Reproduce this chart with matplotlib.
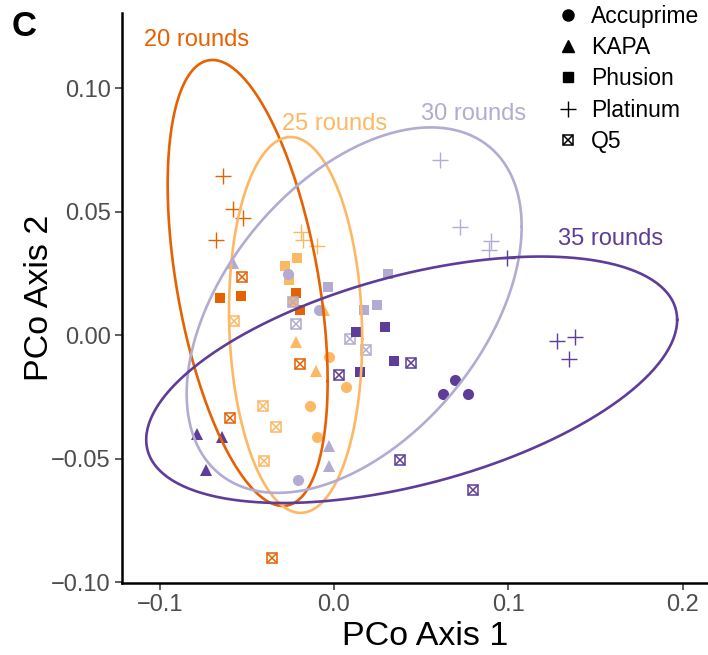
import numpy as np
import matplotlib
matplotlib.use('Agg')
import matplotlib.pyplot as plt
from matplotlib.lines import Line2D

plt.rcParams['font.family'] = ['Liberation Sans', 'DejaVu Sans']

# PCoA coordinates per cycle number and polymerase
rounds = ['20 rounds', '25 rounds', '30 rounds', '35 rounds']
round_colors = ['#E66101', '#FDB863', '#B2ABD2', '#5E3C99']
polymerases = ['Accuprime', 'KAPA', 'Phusion', 'Platinum', 'Q5']

r20_x = {'Platinum': [-0.0639, -0.0581, -0.0524, -0.0679],
         'Phusion': [-0.0656, -0.0535, -0.0220, -0.0197],
         'Q5': [-0.0530, -0.0197, -0.0598, -0.0357]}
r20_y = {'Platinum': [0.0643, 0.0509, 0.0473, 0.0383],
         'Phusion': [0.0152, 0.0160, 0.0172, 0.0103],
         'Q5': [0.0237, -0.0116, -0.0335, -0.0903]}

r25_x = {'Accuprime': [-0.0030, 0.0067, -0.0139, -0.0099],
         'KAPA': [-0.0059, -0.0220, -0.0105],
         'Phusion': [-0.0214, -0.0283, -0.0260, -0.0233],
         'Platinum': [-0.0191, -0.0180, -0.0099],
         'Q5': [-0.0575, -0.0409, -0.0334, -0.0403]}
r25_y = {'Accuprime': [-0.0087, -0.0209, -0.0286, -0.0412],
         'KAPA': [0.0103, -0.0030, -0.0144],
         'Phusion': [0.0314, 0.0278, 0.0225, 0.0134],
         'Platinum': [0.0416, 0.0383, 0.0359],
         'Q5': [0.0055, -0.0286, -0.0371, -0.0509]}

r30_x = {'Accuprime': [-0.0266, -0.0088, -0.0208],
         'KAPA': [-0.0581, -0.0030, -0.0030],
         'Phusion': [-0.0036, 0.0308, 0.0170, 0.0245],
         'Platinum': [0.0606, 0.0721, 0.0899, 0.0888],
         'Q5': [-0.0237, -0.0220, 0.0090, 0.0182]}
r30_y = {'Accuprime': [0.0249, 0.0103, -0.0586],
         'KAPA': [0.0290, -0.0448, -0.0529],
         'Phusion': [0.0193, 0.0249, 0.0103, 0.0120],
         'Platinum': [0.0708, 0.0436, 0.0379, 0.0343],
         'Q5': [0.0132, 0.0043, -0.0014, -0.0059]}

r35_x = {'Accuprime': [0.0693, 0.0624, 0.0767],
         'KAPA': [-0.0788, -0.0644, -0.0736],
         'Phusion': [0.0124, 0.0291, 0.0343, 0.0147],
         'Platinum': [0.0991, 0.1278, 0.1381, 0.1347],
         'Q5': [0.0440, 0.0027, 0.0377, 0.0796]}
r35_y = {'Accuprime': [-0.0181, -0.0237, -0.0237],
         'KAPA': [-0.0400, -0.0412, -0.0546],
         'Phusion': [0.0014, 0.0034, -0.0103, -0.0148],
         'Platinum': [0.0314, -0.0022, -0.0006, -0.0095],
         'Q5': [-0.0112, -0.0160, -0.0505, -0.0627]}

# 95% ellipse per cycle number: centre, half extents along x / y, correlation
ell_cx = [-0.0495, -0.0220, 0.0116, 0.0446]
ell_cy = [0.0211, 0.0041, 0.0101, -0.0181]
ell_wx = [0.0459, 0.0382, 0.0961, 0.1523]
ell_wy = [0.0903, 0.0761, 0.0740, 0.0499]
ell_r = [-0.44, -0.075, 0.457, 0.486]

# where each ellipse gets its label
label_x = [-0.0791, 0.0004, 0.0802, 0.1588]
label_y = [0.1195, 0.0854, 0.0894, 0.0391]

group_x = [r20_x, r25_x, r30_x, r35_x]
group_y = [r20_y, r25_y, r30_y, r35_y]

marker_style = {
    'Accuprime': dict(marker='o', markersize=8),
    'KAPA': dict(marker='^', markersize=8.5),
    'Phusion': dict(marker='s', markersize=7.5),
    'Platinum': dict(marker='+', markersize=11.5, markeredgewidth=1.0),
}


def draw_points(ax, xs, ys, color, poly):
    if poly == 'Q5':
        ax.plot(xs, ys, linestyle='none', marker='s', markersize=7.5,
                markerfacecolor='none', markeredgecolor=color, markeredgewidth=1.1)
        ax.plot(xs, ys, linestyle='none', marker='x', markersize=7.0,
                markeredgecolor=color, markeredgewidth=1.1)
    else:
        ax.plot(xs, ys, linestyle='none', color=color, markeredgecolor=color,
                markeredgewidth=marker_style[poly].get('markeredgewidth', 0),
                marker=marker_style[poly]['marker'],
                markersize=marker_style[poly]['markersize'])


fig = plt.figure(figsize=(7.08, 6.55), dpi=100)
ax = fig.add_axes([0.1723, 0.1099, 0.8277, 0.8702])

for gx, gy, color in zip(group_x, group_y, round_colors):
    for poly in polymerases:
        if poly in gx:
            draw_points(ax, gx[poly], gy[poly], color, poly)

t = np.linspace(0, 2 * np.pi, 300)
for i in range(len(rounds)):
    ex = ell_cx[i] + ell_wx[i] * np.cos(t)
    ey = ell_cy[i] + ell_r[i] * ell_wy[i] * np.cos(t) + ell_wy[i] * np.sqrt(1 - ell_r[i] ** 2) * np.sin(t)
    ax.plot(ex, ey, color=round_colors[i], linewidth=1.9)
    ax.text(label_x[i], label_y[i], rounds[i], color=round_colors[i],
            fontsize=17, ha='center', va='center')

ax.set_xlim(-0.1216, 0.2146)
ax.set_ylim(-0.1004, 0.1304)
ax.set_xticks([-0.1, 0.0, 0.1, 0.2])
ax.set_xticklabels(['\u22120.1', '0.0', '0.1', '0.2'])
ax.set_yticks([-0.10, -0.05, 0.0, 0.05, 0.10])
ax.set_yticklabels(['\u22120.10', '\u22120.05', '0.00', '0.05', '0.10'])
ax.tick_params(labelsize=17, labelcolor='#4D4D4D', length=5, width=1.1,
               color='#333333', pad=3)
for side in ['top', 'right']:
    ax.spines[side].set_visible(False)
for side in ['left', 'bottom']:
    ax.spines[side].set_linewidth(1.8)
ax.set_xlabel('PCo Axis 1', fontsize=24.5, labelpad=3.5)
ax.xaxis.label.set_x(0.517)
ax.set_ylabel('PCo Axis 2', fontsize=24.5, labelpad=-3)

# legend for polymerase shapes
handles = [
    Line2D([], [], linestyle='none', color='black', marker='o', markersize=8),
    Line2D([], [], linestyle='none', color='black', marker='^', markersize=8.5),
    Line2D([], [], linestyle='none', color='black', marker='s', markersize=7.5),
    Line2D([], [], linestyle='none', color='black', marker='+', markersize=11.5,
           markeredgewidth=1.0),
    (Line2D([], [], linestyle='none', marker='s', markersize=7.5, markerfacecolor='none',
            markeredgecolor='black', markeredgewidth=1.1),
     Line2D([], [], linestyle='none', marker='x', markersize=7.0, markeredgecolor='black',
            markeredgewidth=1.1)),
]
fig.legend(handles, polymerases, loc='upper left', bbox_to_anchor=(0.7860, 0.9924),
           frameon=False, fontsize=16.5, handlelength=1.0, handletextpad=0.5,
           labelspacing=0.36, borderpad=0, borderaxespad=0)

fig.text(24 / 708, 1 - 27 / 655, 'C', fontsize=25, fontweight='bold',
         ha='center', va='center')

fig.savefig('out.png', dpi=100)
